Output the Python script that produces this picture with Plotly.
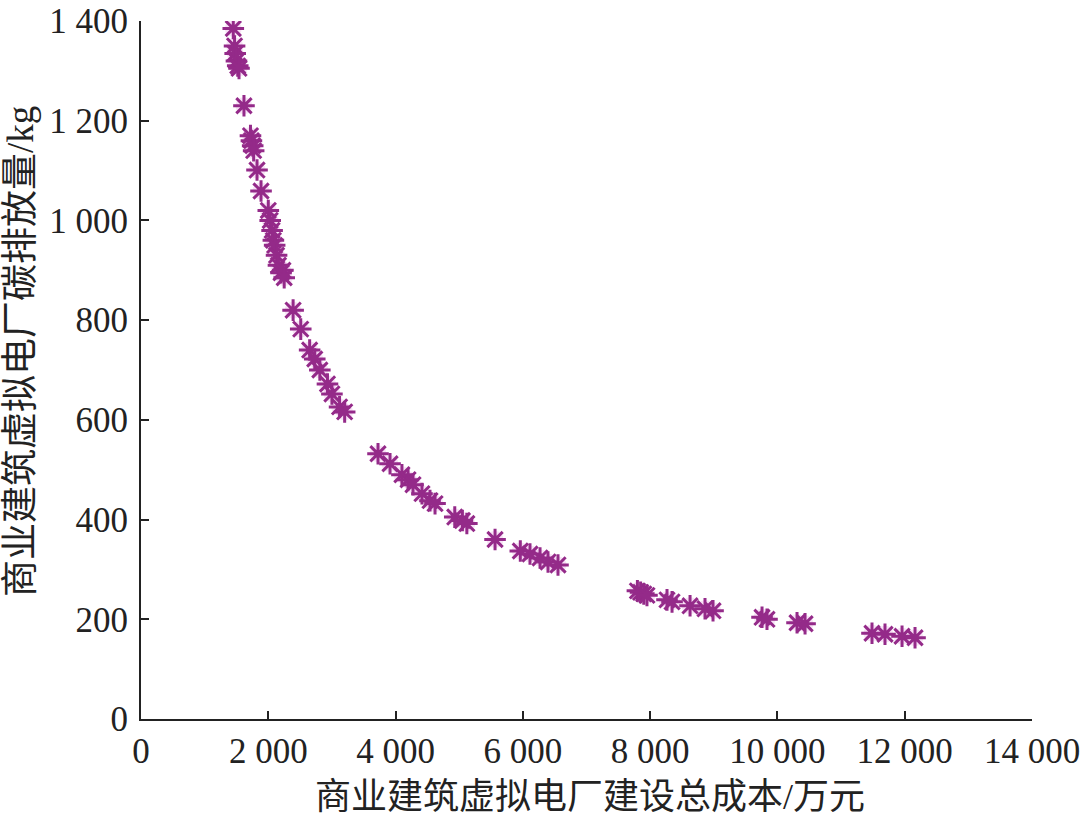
import plotly.graph_objects as go

cost = [1450, 1470, 1480, 1500, 1520, 1540, 1618, 1720, 1735, 1755, 1770, 1823, 1886,
        2000, 2030, 2060, 2080, 2100, 2130, 2160, 2200, 2230, 2250,
        2390, 2510, 2650, 2730, 2810, 2930, 3000, 3120, 3200,
        3724, 3913, 4100, 4196, 4274, 4415, 4541, 4620, 4930, 5050, 5120,
        5563, 5960, 6112, 6270, 6395, 6552,
        7800, 7850, 7900, 7950, 8265, 8344, 8627, 8862, 8988,
        9758, 9836, 10308, 10434, 11486, 11690, 11958, 12162]
emission = [1385, 1350, 1335, 1320, 1310, 1305, 1230, 1170, 1160, 1150, 1140, 1101, 1059,
            1020, 1000, 980, 960, 950, 930, 910, 895, 900, 885,
            820, 782, 740, 722, 700, 672, 652, 626, 616,
            532, 512, 490, 480, 470, 452, 438, 432, 405, 398, 392,
            360, 337, 331, 323, 315, 309,
            257, 254, 251, 248, 239, 235, 227, 221, 217,
            204, 200, 193, 191, 172, 170, 166, 163]

x_ticks = [0, 2000, 4000, 6000, 8000, 10000, 12000, 14000]
x_labels = ["0", "2 000", "4 000", "6 000", "8 000", "10 000", "12 000", "14 000"]
y_ticks = [0, 200, 400, 600, 800, 1000, 1200, 1400]
y_labels = ["0", "200", "400", "600", "800", "1 000", "1 200", "1 400"]

fig = go.Figure()
fig.add_trace(go.Scatter(
    x=cost, y=emission, mode="markers",
    marker=dict(symbol="circle", size=17, color="rgba(225,120,215,0.22)", line=dict(width=0)),
    hoverinfo="skip", showlegend=False))
fig.add_trace(go.Scatter(
    x=cost, y=emission, mode="markers",
    marker=dict(symbol="asterisk-open", size=18, color="#942a89",
                line=dict(color="#942a89", width=3)),
    showlegend=False))

font_fam = "Liberation Serif, Noto Sans CJK SC, serif"
axis_common = dict(showgrid=False, zeroline=False, showline=True, linecolor="#222",
                   linewidth=2, ticks="inside", ticklen=8, tickwidth=2, tickcolor="#222",
                   automargin=False, ticklabeloverflow="allow",
                   tickfont=dict(family=font_fam, size=35, color="#222"))
fig.update_layout(
    width=1080, height=818,
    margin=dict(l=141, r=48, t=21, b=99),
    paper_bgcolor="white", plot_bgcolor="white",
    xaxis=dict(range=[0, 14000], tickvals=x_ticks, ticktext=x_labels, **axis_common),
    yaxis=dict(range=[0, 1400], tickvals=y_ticks, ticktext=y_labels,
               ticklabelstandoff=4, **axis_common),
    annotations=[
        dict(text="商业建筑虚拟电厂建设总成本/万元", xref="paper", yref="paper",
             x=(590 - 141) / 891, y=-(797 - 719) / 698, xanchor="center", yanchor="middle",
             showarrow=False, font=dict(family=font_fam, size=36, color="#222")),
        dict(text="商业建筑虚拟电厂碳排放量/kg", xref="paper", yref="paper",
             x=(20 - 141) / 891, y=(719 - 352) / 698, xanchor="center", yanchor="middle",
             textangle=-90, showarrow=False, font=dict(family=font_fam, size=37, color="#222")),
    ],
)
fig.write_html("out.html")
